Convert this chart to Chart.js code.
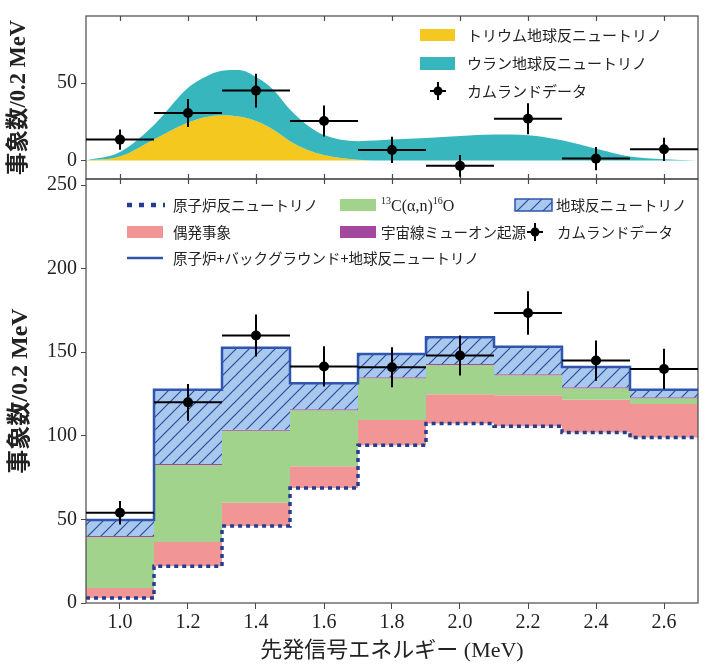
<!DOCTYPE html>
<html>
<head>
<meta charset="utf-8">
<script src="https://cdn.jsdelivr.net/npm/chart.js@4.4.1/dist/chart.umd.min.js"></script>
<style>
  html, body { margin: 0; padding: 0; background: #fff; }
  #wrap { position: relative; width: 709px; height: 666px; }
  #wrap canvas { position: absolute; left: 0; top: 0; }
</style>
</head>
<body>
<div id="wrap">
  <canvas id="main" width="709" height="666"></canvas>
  <canvas id="inset" width="709" height="666"></canvas>
</div>
<script>
// ---- energy binning (MeV) ----
const binCenters = [1.0, 1.2, 1.4, 1.6, 1.8, 2.0, 2.2, 2.4, 2.6];
const binEdges   = [0.9, 1.1, 1.3, 1.5, 1.7, 1.9, 2.1, 2.3, 2.5, 2.7];
const xTicks     = [1.0, 1.2, 1.4, 1.6, 1.8, 2.0, 2.2, 2.4, 2.6];

// ---- lower panel: expected events per bin, by component ----
const reactor    = [3, 22, 46, 68.8, 94.4, 107.3, 105.7, 102, 99];
const accidental = [6, 14.5, 14, 13, 15, 17.5, 18.5, 19.5, 20];
const alphaN     = [30.5, 46, 43, 33.5, 25, 17.5, 12, 7, 3.5];
const muonBg     = [0.6, 0.6, 0.6, 0.6, 0.6, 0.6, 0.6, 0.6, 0.6];
const geoNu      = [9.5, 44.5, 49, 15.5, 14, 16, 16.5, 12, 4.5];
// measured events with errors
const dataCounts = [54, 120, 160, 141.5, 141, 148, 173.5, 145, 140];
const dataErrors = [7, 11, 12.5, 12, 12, 12, 13, 12, 12];
const yTicksMain = [0, 50, 100, 150, 200, 250];

// ---- upper panel: geo-neutrino spectrum ----
const curveE       = [0.9, 1.0, 1.1, 1.2, 1.25, 1.3, 1.35, 1.4, 1.45, 1.5, 1.55, 1.6, 1.7, 1.8, 1.9, 2.0, 2.1, 2.2, 2.3, 2.4, 2.5, 2.6, 2.7];
const thoriumCurve = [0, 2.5, 13.5, 24.5, 28, 29.3, 28.5, 25.5, 20, 12.5, 7, 3.5, 0.5, 0, 0, 0, 0, 0, 0, 0, 0, 0, 0];
const uraniumCurve = [0, 3, 9.5, 22.5, 26, 28.7, 30, 28.5, 26, 20.5, 16, 13, 12, 13.5, 14.5, 15.8, 16.8, 16.3, 13, 7.5, 2.5, 0.8, 0];
const geoData      = [13.5, 30.7, 45.2, 25.5, 6.8, -3.5, 27, 1.2, 7.2];
const geoErrors    = [6.5, 9, 11, 10, 8.5, 7, 10, 7.5, 7.5];
const yTicksInset  = [0, 50];

// ---- styling ----
const COL = {
  thorium: '#f4c81e',
  uranium: '#37b7bd',
  accidental: '#f19597',
  alphaN: '#a2d38c',
  muon: '#a4479e',
  geoFill: '#a9c8ee',
  hatch: '#2b4c9b',
  outline: '#2f55ad',
  reactor: '#263d8e',
  frame: '#4a4a4a',
  text: '#222'
};
const SERIF = "'Liberation Serif', 'Noto Sans CJK JP', serif";
const JP = "'Noto Sans CJK JP', sans-serif";
const BINW = 0.2;

Chart.defaults.font.family = SERIF;
Chart.defaults.color = COL.text;

// helpers
const cumulative = (...parts) => parts[0].map((_, i) => parts.reduce((s, p) => s + p[i], 0));
const stepPoints = vals => {
  const pts = vals.map((v, i) => ({ x: binEdges[i], y: v }));
  pts.push({ x: binEdges[binEdges.length - 1], y: vals[vals.length - 1] });
  return pts;
};
const xyPoints = (xs, ys) => xs.map((x, i) => ({ x, y: ys[i] }));

function hatchPattern(ctx) {
  const s = 13;
  const c = document.createElement('canvas');
  c.width = s; c.height = s;
  const g = c.getContext('2d');
  g.fillStyle = COL.geoFill;
  g.fillRect(0, 0, s, s);
  g.strokeStyle = COL.hatch;
  g.lineWidth = 1.2;
  g.beginPath();
  g.moveTo(0, s); g.lineTo(s, 0);
  g.moveTo(-s / 2, s / 2); g.lineTo(s / 2, -s / 2);
  g.moveTo(s / 2, s * 1.5); g.lineTo(s * 1.5, s / 2);
  g.stroke();
  return ctx.createPattern(c, 'repeat');
}

// error bars: horizontal = bin width, vertical = +-error
function errorBarPlugin(xs, ys, errs) {
  return {
    id: 'errorBars',
    afterDatasetsDraw(chart) {
      const { ctx, scales: { x, y } } = chart;
      ctx.save();
      ctx.strokeStyle = '#000';
      ctx.lineWidth = 2;
      xs.forEach((xv, i) => {
        const px = x.getPixelForValue(xv), py = y.getPixelForValue(ys[i]);
        ctx.beginPath();
        ctx.moveTo(x.getPixelForValue(xv - BINW / 2), py);
        ctx.lineTo(x.getPixelForValue(xv + BINW / 2), py);
        ctx.moveTo(px, y.getPixelForValue(ys[i] - errs[i]));
        ctx.lineTo(px, y.getPixelForValue(ys[i] + errs[i]));
        ctx.stroke();
        ctx.beginPath();
        ctx.arc(px, py, 5, 0, Math.PI * 2);
        ctx.fillStyle = '#000';
        ctx.fill();
      });
      ctx.restore();
    }
  };
}

// plot frame with inward ticks
function framePlugin(inwardTop, inwardBottom) {
  return {
    id: 'frame',
    afterDatasetsDraw(chart) {
      const { ctx, chartArea: a, scales: { x } } = chart;
      ctx.save();
      ctx.strokeStyle = COL.frame;
      ctx.lineWidth = 1.2;
      ctx.strokeRect(a.left, a.top, a.right - a.left, a.bottom - a.top);
      ctx.beginPath();
      xTicks.forEach(v => {
        const px = Math.round(x.getPixelForValue(v)) + 0.5;
        if (inwardTop) { ctx.moveTo(px, a.top); ctx.lineTo(px, a.top + 5); }
        if (inwardBottom) { ctx.moveTo(px, a.bottom); ctx.lineTo(px, a.bottom - 5); }
      });
      ctx.stroke();
      ctx.restore();
    }
  };
}

function drawMarker(ctx, cx, cy) {
  ctx.save();
  ctx.strokeStyle = '#000';
  ctx.lineWidth = 2;
  ctx.beginPath();
  ctx.moveTo(cx - 8, cy); ctx.lineTo(cx + 8, cy);
  ctx.moveTo(cx, cy - 9); ctx.lineTo(cx, cy + 9);
  ctx.stroke();
  ctx.beginPath();
  ctx.arc(cx, cy, 4.5, 0, Math.PI * 2);
  ctx.fillStyle = '#000';
  ctx.fill();
  ctx.restore();
}

function label(ctx, text, x, y, size) {
  ctx.save();
  ctx.font = `${size}px ${JP}`;
  ctx.fillStyle = COL.text;
  ctx.textBaseline = 'middle';
  ctx.textAlign = 'left';
  ctx.fillText(text, x, y);
  ctx.restore();
}

// legend of the lower panel (three columns)
const mainLegend = {
  id: 'mainLegend',
  afterDraw(chart) {
    const ctx = chart.ctx;
    const r1 = 205, r2 = 232, r3 = 258, fs = 14.5;
    ctx.save();
    // reactor (dotted)
    ctx.strokeStyle = COL.reactor;
    ctx.lineWidth = 4.5;
    ctx.setLineDash([5, 7]);
    ctx.beginPath(); ctx.moveTo(127, r1); ctx.lineTo(165, r1); ctx.stroke();
    ctx.setLineDash([]);
    label(ctx, '原子炉反ニュートリノ', 173, r1, fs);
    // accidental
    ctx.fillStyle = COL.accidental;
    ctx.fillRect(127, r2 - 6, 36, 12);
    label(ctx, '偶発事象', 173, r2, fs);
    // total
    ctx.strokeStyle = COL.outline;
    ctx.lineWidth = 2.5;
    ctx.beginPath(); ctx.moveTo(127, r3); ctx.lineTo(163, r3); ctx.stroke();
    label(ctx, '原子炉+バックグラウンド+地球反ニュートリノ', 173, r3, fs);
    // 13C(a,n)16O
    ctx.fillStyle = COL.alphaN;
    ctx.fillRect(340, r1 - 6, 36, 12);
    ctx.fillStyle = COL.text;
    ctx.textBaseline = 'alphabetic';
    let tx = 381;
    const base = r1 + 6;
    const parts = [['13', 10, -7], ['C(α,n)', 16, 0], ['16', 10, -7], ['O', 16, 0]];
    parts.forEach(([t, s, dy]) => {
      ctx.font = `${s}px ${SERIF}`;
      ctx.fillText(t, tx, base + dy);
      tx += ctx.measureText(t).width;
    });
    // muon
    ctx.fillStyle = COL.muon;
    ctx.fillRect(340, r2 - 6, 36, 12);
    label(ctx, '宇宙線ミューオン起源', 381, r2, fs);
    // geo (hatched)
    ctx.fillStyle = hatchPattern(ctx);
    ctx.fillRect(515, r1 - 6, 37, 12);
    ctx.strokeStyle = COL.outline;
    ctx.lineWidth = 1.5;
    ctx.strokeRect(515, r1 - 6, 37, 12);
    label(ctx, '地球反ニュートリノ', 556, r1, fs);
    // data
    drawMarker(ctx, 535, r2);
    label(ctx, 'カムランドデータ', 557, r2, fs);
    ctx.restore();
  }
};

// legend of the upper panel
const insetLegend = {
  id: 'insetLegend',
  afterDraw(chart) {
    const ctx = chart.ctx;
    ctx.save();
    ctx.fillStyle = COL.thorium;
    ctx.fillRect(420, 29, 35, 12);
    label(ctx, 'トリウム地球反ニュートリノ', 467, 35, 15);
    ctx.fillStyle = COL.uranium;
    ctx.fillRect(420, 57, 35, 13);
    label(ctx, 'ウラン地球反ニュートリノ', 467, 63, 15);
    drawMarker(ctx, 438, 91);
    label(ctx, 'カムランドデータ', 467, 91, 15);
    ctx.restore();
  }
};

const tickFont = { family: SERIF, size: 20 };

// ---------------- lower panel ----------------
const accTop = cumulative(reactor, accidental);
const alphaTop = cumulative(reactor, accidental, alphaN);
const muonTop = cumulative(reactor, accidental, alphaN, muonBg);
const totalTop = cumulative(reactor, accidental, alphaN, muonBg, geoNu);

const mainCanvas = document.getElementById('main');
const mainCtx = mainCanvas.getContext('2d');

new Chart(mainCanvas, {
  type: 'line',
  data: {
    datasets: [
      { label: 'カムランドデータ', data: xyPoints(binCenters, dataCounts), showLine: false, pointRadius: 0 },
      { label: '原子炉+バックグラウンド+地球反ニュートリノ', data: stepPoints(totalTop), stepped: true,
        borderColor: COL.outline, borderWidth: 2.5, pointRadius: 0,
        fill: { target: 3 }, backgroundColor: hatchPattern(mainCtx) },
      { label: '原子炉反ニュートリノ', data: stepPoints(reactor), stepped: true,
        borderColor: COL.reactor, borderWidth: 3.5, borderDash: [4, 4], pointRadius: 0, fill: false },
      { label: '宇宙線ミューオン起源', data: stepPoints(muonTop), stepped: true,
        borderWidth: 0, pointRadius: 0, fill: { target: 4 }, backgroundColor: COL.muon },
      { label: '13C(α,n)16O', data: stepPoints(alphaTop), stepped: true,
        borderWidth: 0, pointRadius: 0, fill: { target: 5 }, backgroundColor: COL.alphaN },
      { label: '偶発事象', data: stepPoints(accTop), stepped: true,
        borderWidth: 0, pointRadius: 0, fill: { target: 2 }, backgroundColor: COL.accidental }
    ]
  },
  options: {
    responsive: false,
    animation: false,
    devicePixelRatio: 1,
    layout: { padding: { top: 179, right: 11, left: 0, bottom: 0 } },
    plugins: { legend: { display: false }, tooltip: { enabled: false } },
    scales: {
      x: {
        type: 'linear', min: 0.9, max: 2.7,
        afterBuildTicks: s => { s.ticks = xTicks.map(v => ({ value: v })); },
        afterFit: s => { s.height = 63; },
        ticks: { font: tickFont, color: COL.text, padding: 2, maxRotation: 0, callback: v => v.toFixed(1) },
        grid: { drawOnChartArea: false, drawTicks: true, tickLength: 6, color: COL.frame },
        border: { display: false },
        title: { display: true, text: '先発信号エネルギー (MeV)', font: { family: SERIF, size: 22 }, color: COL.text, padding: { top: 0, bottom: 2 } }
      },
      y: {
        min: 0, max: 253.6,
        afterBuildTicks: s => { s.ticks = yTicksMain.map(v => ({ value: v })); },
        afterFit: s => { s.width = 86; },
        ticks: { font: tickFont, color: COL.text, padding: 4 },
        grid: { drawOnChartArea: false, drawTicks: true, tickLength: 5, color: COL.frame },
        border: { display: false },
        title: { display: true, text: '事象数/0.2 MeV', font: { family: SERIF, size: 24, weight: 'bold' }, color: COL.text, padding: { top: 6, bottom: 0 } }
      }
    }
  },
  plugins: [framePlugin(true, false), errorBarPlugin(binCenters, dataCounts, dataErrors), mainLegend]
});

// ---------------- upper panel ----------------
const geoTotalCurve = cumulative(thoriumCurve, uraniumCurve);

new Chart(document.getElementById('inset'), {
  type: 'line',
  data: {
    datasets: [
      { label: 'カムランドデータ', data: xyPoints(binCenters, geoData), showLine: false, pointRadius: 0 },
      { label: 'ウラン地球反ニュートリノ', data: xyPoints(curveE, geoTotalCurve), cubicInterpolationMode: 'monotone',
        borderWidth: 0, pointRadius: 0, fill: { target: 2 }, backgroundColor: COL.uranium },
      { label: 'トリウム地球反ニュートリノ', data: xyPoints(curveE, thoriumCurve), cubicInterpolationMode: 'monotone',
        borderWidth: 0, pointRadius: 0, fill: 'origin', backgroundColor: COL.thorium }
    ]
  },
  options: {
    responsive: false,
    animation: false,
    devicePixelRatio: 1,
    layout: { padding: { top: 10, right: 11, left: 0, bottom: 487 } },
    plugins: { legend: { display: false }, tooltip: { enabled: false } },
    scales: {
      x: {
        type: 'linear', min: 0.9, max: 2.7,
        afterFit: s => { s.height = 0; },
        ticks: { display: false },
        grid: { display: false },
        border: { display: false }
      },
      y: {
        min: -12, max: 93.5,
        afterBuildTicks: s => { s.ticks = yTicksInset.map(v => ({ value: v })); },
        afterFit: s => { s.width = 86; },
        ticks: { font: tickFont, color: COL.text, padding: 4 },
        grid: { drawOnChartArea: false, drawTicks: true, tickLength: 5, color: COL.frame },
        border: { display: false },
        title: { display: true, text: '事象数/0.2 MeV', font: { family: SERIF, size: 22.5, weight: 'bold' }, color: COL.text, padding: { top: 6, bottom: 0 } }
      }
    }
  },
  plugins: [framePlugin(true, true), errorBarPlugin(binCenters, geoData, geoErrors), insetLegend]
});
</script>
</body>
</html>
